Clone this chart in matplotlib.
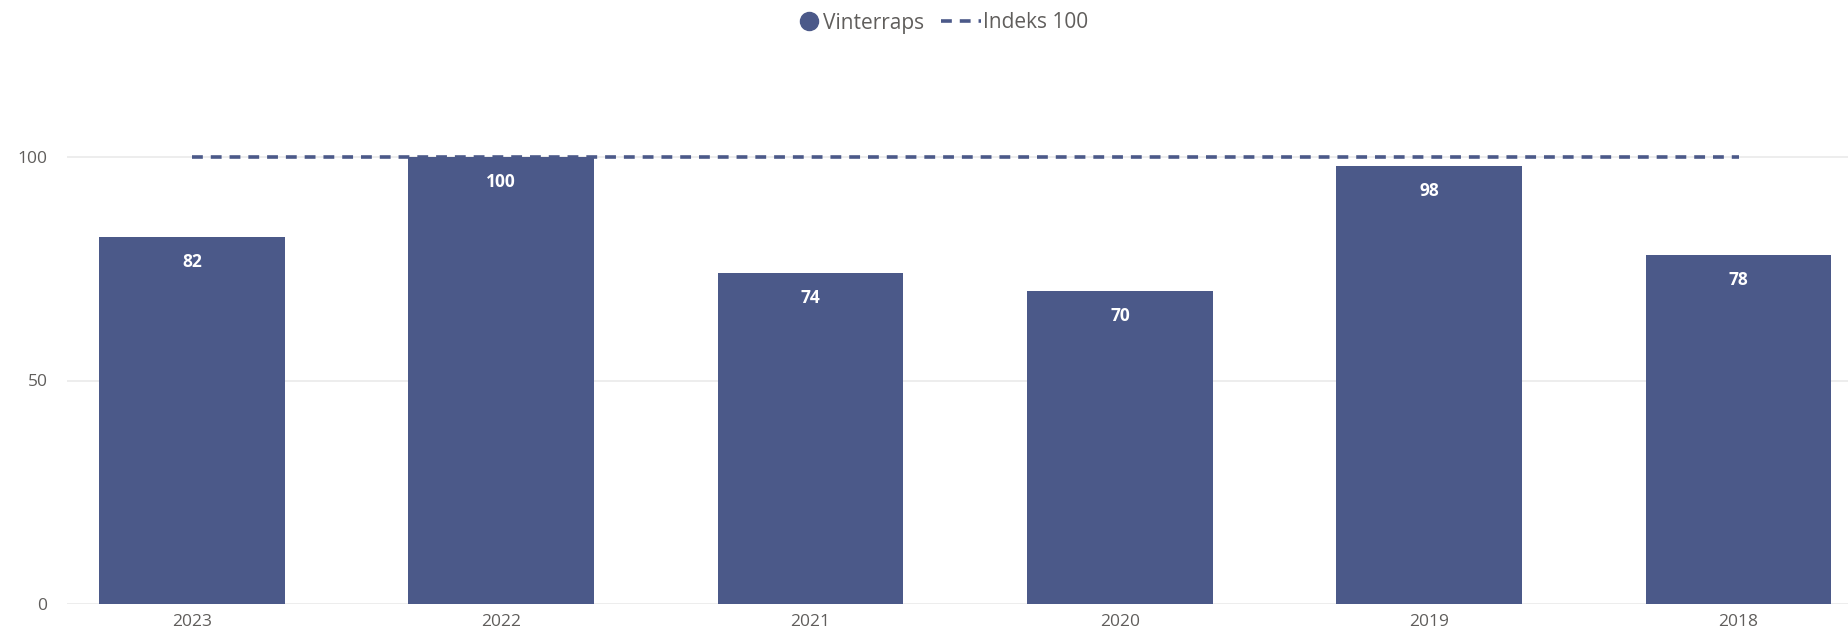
import matplotlib
matplotlib.use("Agg")
import matplotlib.pyplot as plt
from matplotlib.lines import Line2D

years = ["2023", "2022", "2021", "2020", "2019", "2018"]
vinterraps = [82, 100, 74, 70, 98, 78]
indeks = [100, 100, 100, 100, 100, 100]
yticks = [0, 50, 100]

bar_color = "#4B5989"
grid_color = "#EAEAEA"
text_color = "#605E5C"

plt.rcParams['font.family'] = ['Open Sans', 'DejaVu Sans']

W, H = 1849, 634
fig = plt.figure(figsize=(W / 100, H / 100), dpi=100)
left_px, right_px = 67, 1849
bottom_px, top_px = 604, 80
ax = fig.add_axes([left_px / W, 1 - bottom_px / H, (right_px - left_px) / W, (bottom_px - top_px) / H])

x = list(range(len(years)))
ax.bar(x, vinterraps, width=0.6, color=bar_color, zorder=3)
ax.plot(x, indeks, linestyle=(0, (3, 2.2)), color=bar_color, linewidth=2.6, zorder=4)

for xi, v in zip(x, vinterraps):
    ax.annotate(str(v), (xi, v), xytext=(0, -18), textcoords="offset points",
                ha="center", va="center", color="white", fontsize=12.5, fontweight="bold", zorder=5)

ax.set_xlim(-0.404, 5.357)
ax.set_ylim(0, (bottom_px - top_px) / 4.47)
ax.set_yticks(yticks)
ax.set_xticks(x)
ax.set_xticklabels(years)
ax.tick_params(axis="both", length=0, colors=text_color, labelsize=12.5)
ax.tick_params(axis="x", pad=7)
ax.tick_params(axis="y", pad=14)
ax.grid(axis="y", color=grid_color, linewidth=1.2, zorder=0)
for s in ax.spines.values():
    s.set_visible(False)

handles = [
    Line2D([0], [0], marker="o", color="none", markerfacecolor=bar_color, markeredgecolor=bar_color, markersize=13),
    Line2D([0], [0], color=bar_color, linestyle=(0, (3, 2.2)), linewidth=2.6),
]
fig.legend(handles, ["Vinterraps", "Indeks 100"], loc="center", bbox_to_anchor=(0.5055, 1 - 23 / H),
           ncol=2, frameon=False, fontsize=15, handlelength=1.9, handletextpad=0.1, columnspacing=0.8,
           labelcolor=text_color)
leg = fig.legends[0]
leg.legend_handles[0].set_xdata([20])

fig.savefig("out.png", dpi=100)
